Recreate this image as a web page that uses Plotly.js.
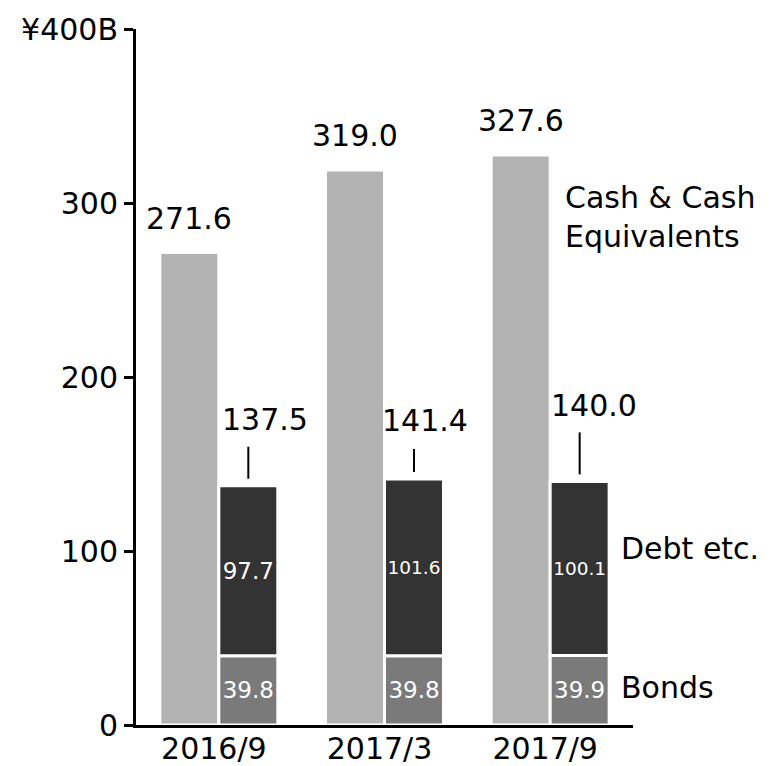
<!DOCTYPE html>
<html>
<head>
<meta charset="utf-8">
<script src="https://cdn.plot.ly/plotly-3.0.1.min.js"></script>
<style>html,body{margin:0;padding:0;background:#fff;}#chart{width:775px;height:766px;}</style>
</head>
<body>
<div id="chart"></div>
<script>
const categories = ['2016/9', '2017/3', '2017/9'];
const cash = [271.6, 319.0, 327.6];
const bonds = [39.8, 39.8, 39.9];
const debt = [97.7, 101.6, 100.1];
const totals = [137.5, 141.4, 140.0];
const yTickVals = [0, 100, 200, 300, 400];
const yTickText = ['0', '100', '200', '300', '¥400B'];

const FONT = 'DejaVu Sans, Verdana, sans-serif';
const W = 0.356;

const lineStyle = {color: '#ffffff', width: 3};

const traces = [
  {
    type: 'bar', x: categories, y: cash, base: 0,
    width: W, offset: -W,
    marker: {color: '#b3b3b3', line: lineStyle},
    hoverinfo: 'skip'
  },
  {
    type: 'bar', x: categories, y: bonds, base: 0,
    width: W, offset: 0,
    marker: {color: '#7a7a7a', line: lineStyle},
    text: bonds.map(v => v.toFixed(1)),
    textposition: 'inside', insidetextanchor: 'middle', textangle: 0,
    textfont: {color: '#ffffff', size: 23, family: FONT},
    hoverinfo: 'skip'
  },
  {
    type: 'bar', x: categories, y: debt, base: bonds,
    width: W, offset: 0,
    marker: {color: '#333333', line: lineStyle},
    text: debt.map(v => v.toFixed(1)),
    textposition: 'inside', insidetextanchor: 'middle', textangle: 0,
    textfont: {color: '#ffffff', size: 23, family: FONT},
    hoverinfo: 'skip'
  }
];

// label placement tweaks (pixels)
const totalLift = [66, 58, 76];
const totalShift = [17, 11, 14];
const leaderTop = [39, 30, 49];

const annotations = [];
const shapes = [];
categories.forEach((c, i) => {
  annotations.push({
    xref: 'x', yref: 'y', x: i - W / 2, y: cash[i],
    text: cash[i].toFixed(1), showarrow: false,
    yanchor: 'middle', yshift: 34,
    font: {size: 30, color: '#000', family: FONT}
  });
  annotations.push({
    xref: 'x', yref: 'y', x: i + W / 2, y: totals[i],
    text: totals[i].toFixed(1), showarrow: false,
    yanchor: 'middle', yshift: totalLift[i], xshift: totalShift[i],
    font: {size: 30, color: '#000', family: FONT}
  });
  shapes.push({
    type: 'line', xref: 'x', yref: 'y', ysizemode: 'pixel',
    yanchor: totals[i], x0: i + W / 2, x1: i + W / 2,
    y0: 7, y1: leaderTop[i],
    line: {color: '#000', width: 2}
  });
});

annotations.push(
  {xref: 'paper', yref: 'y', x: 0.859, y: 292, xanchor: 'left', yanchor: 'middle',
   text: 'Cash & Cash<br>Equivalents', align: 'left', showarrow: false,
   font: {size: 30, color: '#000', family: FONT}},
  {xref: 'paper', yref: 'y', x: 0.972, y: 101.7, xanchor: 'left', yanchor: 'middle',
   text: 'Debt etc.', align: 'left', showarrow: false,
   font: {size: 30, color: '#000', family: FONT}},
  {xref: 'paper', yref: 'y', x: 0.972, y: 21.3, xanchor: 'left', yanchor: 'middle',
   text: 'Bonds', align: 'left', showarrow: false,
   font: {size: 30, color: '#000', family: FONT}}
);

const layout = {
  width: 775, height: 766,
  margin: {l: 136, r: 142, t: 29, b: 41},
  barmode: 'overlay',
  showlegend: false,
  paper_bgcolor: '#ffffff', plot_bgcolor: '#ffffff',
  font: {family: FONT, size: 30, color: '#000'},
  xaxis: {
    type: 'category', range: [-0.5, 2.5],
    showline: true, linewidth: 3, linecolor: '#000',
    ticks: '', showgrid: false, zeroline: false,
    tickfont: {size: 30, family: FONT, color: '#000'},
    ticklabelshift: -5, ticklabelstandoff: -5
  },
  yaxis: {
    range: [0, 400], tickvals: yTickVals, ticktext: yTickText,
    ticks: 'outside', ticklen: 9, tickwidth: 3, tickcolor: '#000',
    showline: true, linewidth: 3, linecolor: '#000',
    showgrid: false, zeroline: false,
    tickfont: {size: 30, family: FONT, color: '#000'}
  },
  annotations: annotations,
  shapes: shapes
};

Plotly.newPlot('chart', traces, layout, {staticPlot: true, displayModeBar: false});
</script>
</body>
</html>
